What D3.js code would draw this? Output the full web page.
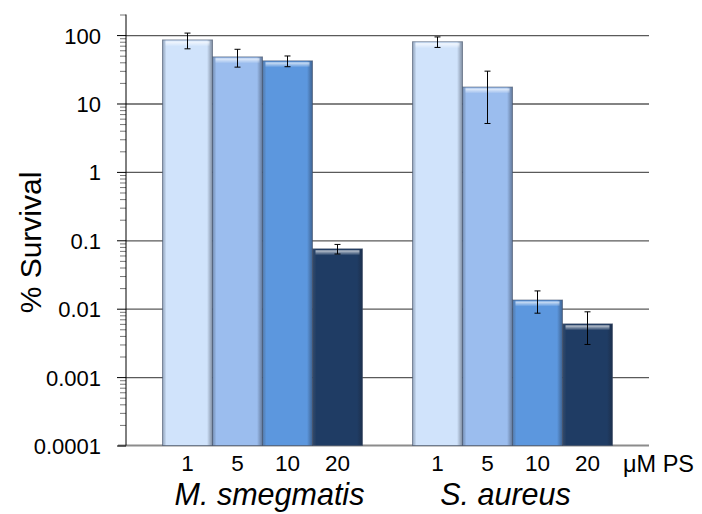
<!DOCTYPE html>
<html lang="en">
<head>
  <meta charset="UTF-8" />
  <title>% Survival</title>
  <script src="https://cdn.jsdelivr.net/npm/d3@7"></script>
  <style>
    body { margin: 0; background: #fff; }
    text { font-family: "Liberation Sans", Arial, sans-serif; fill: #000; }
  </style>
</head>
<body>
<script>
  // data
  var groups = ["M. smegmatis", "S. aureus"];
  var doses = ["1", "5", "10", "20"];
  var msmegValues = [85, 48, 42, 0.075];
  var msmegErrors = [22, 14, 7.5, 0.012];
  var saureusValues = [80, 17.4, 0.0134, 0.006];
  var saureusErrors = [14, 12.3, 0.0048, 0.003];
  var yTicks = [0.0001, 0.001, 0.01, 0.1, 1, 10, 100];
  var yTickLabels = ["0.0001", "0.001", "0.01", "0.1", "1", "10", "100"];
  var doseColors = ["#d0e3fb", "#9bbdee", "#5c97de", "#1f3c64"];

  var w = 702,
    h = 514,
    plotLeft = 126,
    plotRight = 649,
    plotTop = 14.5,
    plotBottom = 445.5;

  var svg = d3.select("body").append("svg")
    .attr("width", w)
    .attr("height", h);

  var yScale = d3.scaleLog()
    .domain([0.0001, 200])
    .range([plotBottom, plotTop]);

  var groupScale = d3.scaleBand()
    .domain(groups)
    .range([plotLeft, plotRight])
    .paddingInner(0.2)
    .paddingOuter(0.146);

  var doseScale = d3.scaleBand()
    .domain(doses)
    .range([0, groupScale.bandwidth()]);

  // gradients for the bevelled bars
  var defs = svg.append("defs");
  doseColors.forEach(function(c, i) {
    var g = defs.append("linearGradient")
      .attr("id", "bar" + i)
      .attr("x1", 0).attr("x2", 1).attr("y1", 0).attr("y2", 0);
    var edge = d3.interpolateRgb(c, "#4a5a70")(0.5);
    var edgeR = d3.interpolateRgb(c, "#1a2230")(0.45);
    g.append("stop").attr("offset", "0%").attr("stop-color", edge);
    g.append("stop").attr("offset", "8%").attr("stop-color", c);
    g.append("stop").attr("offset", "89%").attr("stop-color", c);
    g.append("stop").attr("offset", "100%").attr("stop-color", edgeR);
  });
  var hl = defs.append("linearGradient")
    .attr("id", "hilite")
    .attr("x1", 0).attr("x2", 0).attr("y1", 0).attr("y2", 1);
  hl.append("stop").attr("offset", "0%").attr("stop-color", "#fff").attr("stop-opacity", 0.75);
  hl.append("stop").attr("offset", "100%").attr("stop-color", "#fff").attr("stop-opacity", 0);

  // gridlines
  svg.append("g")
    .attr("class", "grid")
    .attr("transform", "translate(" + plotLeft + ",0)")
    .call(d3.axisRight(yScale).tickValues(yTicks.slice(1)).tickSize(plotRight - plotLeft).tickFormat(""))
    .call(function(g) { g.select(".domain").remove(); })
    .selectAll("line")
    .attr("stroke", "#5a5a5a")
    .attr("stroke-width", 1.3);

  // x axis baseline
  svg.append("line")
    .attr("x1", 118).attr("x2", plotRight)
    .attr("y1", yScale(0.0001)).attr("y2", yScale(0.0001))
    .attr("stroke", "#8c8c8c")
    .attr("stroke-width", 2);

  // bars
  var rows = [];
  groups.forEach(function(gname, gi) {
    var vals = gi == 0 ? msmegValues : saureusValues;
    var errs = gi == 0 ? msmegErrors : saureusErrors;
    doses.forEach(function(d, i) {
      rows.push({ group: gname, dose: d, i: i, v: vals[i], e: errs[i] });
    });
  });

  var bars = svg.append("g").selectAll("g")
    .data(rows)
    .enter()
    .append("g")
    .attr("transform", function(d) {
      return "translate(" + (groupScale(d.group) + doseScale(d.dose)) + ",0)";
    });

  bars.append("rect")
    .attr("x", 0)
    .attr("y", function(d) { return yScale(d.v); })
    .attr("width", doseScale.bandwidth())
    .attr("height", function(d) { return plotBottom - yScale(d.v); })
    .attr("fill", function(d) { return "url(#bar" + d.i + ")"; })
    .attr("stroke", "rgba(60,75,100,0.55)")
    .attr("stroke-width", 1);

  bars.append("rect")
    .attr("x", 3)
    .attr("y", function(d) { return yScale(d.v) + 1.5; })
    .attr("width", doseScale.bandwidth() - 6)
    .attr("height", 5)
    .attr("fill", "url(#hilite)");

  // error bars
  var errG = bars.append("g")
    .attr("stroke", "#000")
    .attr("stroke-width", 1);
  var cx = doseScale.bandwidth() / 2;
  errG.append("line")
    .attr("x1", cx).attr("x2", cx)
    .attr("y1", function(d) { return yScale(d.v + d.e); })
    .attr("y2", function(d) { return yScale(d.v - d.e); });
  errG.append("line")
    .attr("x1", cx - 3).attr("x2", cx + 3)
    .attr("y1", function(d) { return yScale(d.v + d.e); })
    .attr("y2", function(d) { return yScale(d.v + d.e); });
  errG.append("line")
    .attr("x1", cx - 3).attr("x2", cx + 3)
    .attr("y1", function(d) { return yScale(d.v - d.e); })
    .attr("y2", function(d) { return yScale(d.v - d.e); });

  // y axis: minor ticks then major ticks with labels
  var minor = [];
  yTicks.forEach(function(t) {
    for (var k = 2; k <= 9; k++) {
      if (t * k < 200) minor.push(t * k);
    }
  });
  minor.push(200);

  svg.append("g")
    .attr("transform", "translate(" + plotLeft + ",0)")
    .call(d3.axisLeft(yScale).tickValues(minor).tickSize(6).tickFormat(""))
    .call(function(g) { g.select(".domain").remove(); })
    .selectAll("line")
    .attr("stroke", "#777");

  var yAxis = svg.append("g")
    .attr("transform", "translate(" + plotLeft + ",0)")
    .call(d3.axisLeft(yScale)
      .tickValues(yTicks)
      .tickSize(9)
      .tickPadding(16)
      .tickFormat(function(d, i) { return yTickLabels[i]; }));
  yAxis.select(".domain")
    .attr("d", "M0," + plotTop + "V" + plotBottom)
    .attr("stroke", "#000");
  yAxis.selectAll("line").attr("stroke", "#000");
  yAxis.selectAll("text")
    .style("font-size", "22px")
    .attr("dy", "0.36em");

  // dose labels under each group
  groups.forEach(function(gname) {
    var g = svg.append("g")
      .attr("transform", "translate(" + groupScale(gname) + "," + plotBottom + ")")
      .call(d3.axisBottom(doseScale).tickSize(0).tickPadding(10));
    g.select(".domain").remove();
    g.selectAll("text").style("font-size", "22.5px");
  });

  svg.append("text")
    .attr("x", 623)
    .attr("y", 472)
    .style("font-size", "23.5px")
    .text("μM PS");

  // group names
  var labelShift = [7, -7];
  svg.selectAll(".glabel")
    .data(groups)
    .enter()
    .append("text")
    .attr("class", "glabel")
    .attr("x", function(d, i) { return groupScale(d) + groupScale.bandwidth() / 2 + labelShift[i]; })
    .attr("y", 505)
    .attr("text-anchor", "middle")
    .style("font-size", "30.5px")
    .style("font-style", "italic")
    .text(function(d) { return d; });

  // y title
  svg.append("text")
    .attr("transform", "translate(41,242.5) rotate(-90)")
    .attr("text-anchor", "middle")
    .style("font-size", "30px")
    .text("% Survival");
</script>
</body>
</html>
